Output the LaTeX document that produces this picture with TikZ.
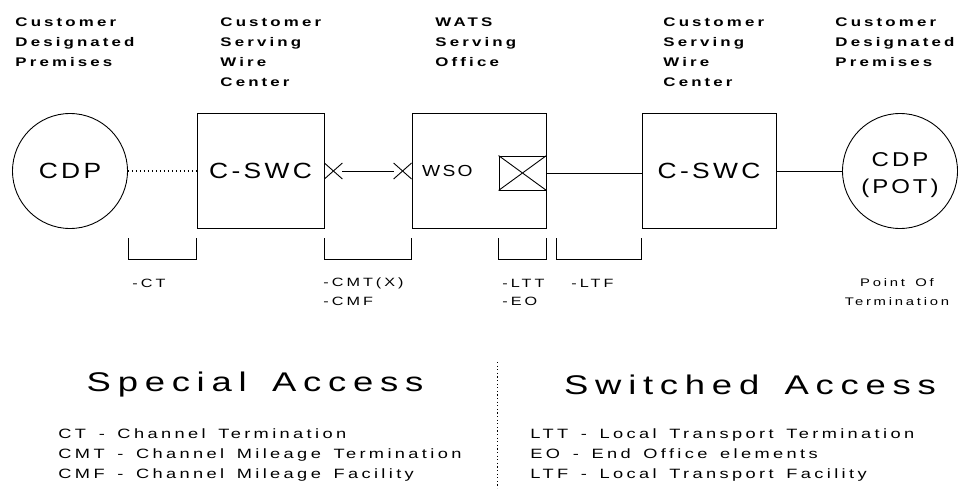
\documentclass[tikz,border=0pt]{standalone}
\usepackage{fontspec}
\setmainfont{Liberation Sans}
\newfontfamily\plotfont[FakeStretch=1.35, LetterSpace=25, WordSpace=1.5]{Liberation Sans}
\newfontfamily\boxfont[FakeStretch=1.2, LetterSpace=15]{Liberation Sans}
\usetikzlibrary{positioning,shapes.misc}

\tikzset{
  site/.style={draw, circle, minimum size=115pt, inner sep=0pt, align=center,
    font=\boxfont\fontsize{22}{26}\selectfont},
  office/.style={draw, rectangle, minimum height=115pt, inner sep=0pt,
    font=\boxfont\fontsize{22}{26}\selectfont},
  switch/.style={draw, rectangle, minimum width=47pt, minimum height=34pt, inner sep=0pt},
  xmark/.style={cross out, draw, minimum width=17pt, minimum height=15pt, inner sep=0pt},
  tag/.style={font=\plotfont\bfseries\fontsize{12.5}{20}\selectfont, align=left, anchor=north west, inner sep=0pt},
  elem/.style={font=\plotfont\fontsize{12}{18}\selectfont, align=left, anchor=west, inner sep=0pt},
  heading/.style={font=\plotfont\fontsize{27}{32}\selectfont, inner sep=0pt},
  legend/.style={font=\plotfont\fontsize{13.5}{20}\selectfont, align=left, anchor=west, inner sep=0pt},
}

% bracket under a stretch of the line
\newcommand{\spanmark}[2]{\draw (#1 |- btop) -- (#1 |- bbot) -- (#2 |- bbot) -- (#2 |- btop);}

\begin{document}
\begin{tikzpicture}[x=1pt, y=-1pt, line width=0.9pt]
    \useasboundingbox (0,0) rectangle (961,488);

    % Titles over the sites
    \node[tag] (cdpLtag) at (15,17) {Customer\\Designated\\Premises};
    \node[tag] (swcLtag) at (220,17) {Customer\\Serving\\Wire\\Center};
    \node[tag] (wsotag) at (435,17) {WATS\\Serving\\Office};
    \node[tag] (swcRtag) at (663,17) {Customer\\Serving\\Wire\\Center};
    \node[tag] (cdpRtag) at (835,17) {Customer\\Designated\\Premises};

    % Sites and offices
    \node[site] (cdpL) at (70,171) {CDP};
    \node[office, minimum width=127pt] (swcL) at (260.5,171) {C-SWC};
    \node[office, minimum width=134pt] (wso) at (479,171) {};
    \node[font=\boxfont\fontsize{16}{18}\selectfont, inner sep=0pt, right=10pt of wso.west] (wsoname) {WSO};
    \node[switch, anchor=east] (sw) at ([yshift=-2pt]wso.east) {};
    \draw (sw.north west) -- (sw.south east) (sw.south west) -- (sw.north east);
    \node[office, minimum width=134pt] (swcR) at (709,171) {C-SWC};
    \node[site] (cdpR) at (900,171) {};
    \node[font=\boxfont\fontsize{20}{27}\selectfont, align=center, inner sep=0pt] (potname) at ([yshift=-4pt]cdpR.center) {CDP\\(POT)};

    % Links
    \draw[line width=1.2pt, dash pattern=on 1.5pt off 2.5pt] (cdpL) -- (swcL);
    \node[xmark, anchor=west] (xa) at (swcL.east) {};
    \node[xmark, anchor=east] (xb) at (wso.west) {};
    \draw (xa) -- (xb);
    \draw (sw.east) -- (sw.east -| swcR.west);
    \draw (swcR) -- (cdpR);

    % Brackets
    \coordinate (btop) at (0,238);
    \coordinate (bbot) at (0,259);
    \coordinate (ltfstart) at ([xshift=10pt]sw.east);
    \spanmark{cdpL.east}{swcL.west}
    \spanmark{swcL.east}{wso.west}
    \spanmark{sw.west}{sw.east}
    \spanmark{ltfstart}{swcR.west}

    % Element labels
    \node[elem] (ct) at (132,283) {-CT};
    \node[elem] (cmt) at (323,283) {-CMT(X)};
    \node[elem] (cmf) at (323,301) {-CMF};
    \node[elem] (ltt) at (502,283) {-LTT};
    \node[elem] (eo) at (502,301) {-EO};
    \node[elem] (ltf) at (571,283) {-LTF};
    \node[elem, anchor=center, align=center, font=\plotfont\fontsize{11}{19}\selectfont] (pot) at (897,292) {Point Of\\Termination};

    % Legend
    \node[heading] (special) at (255,385) {Special Access};
    \node[heading] (switched) at (750,385) {Switched Access};
    \coordinate (divtop) at (497,362);
    \coordinate (divbot) at (497,488);
    \draw[dash pattern=on 1.2pt off 2.4pt] (divtop) -- (divbot);
    \node[legend] (saitems) at (58,455) {CT - Channel Termination\\CMT - Channel Mileage Termination\\CMF - Channel Mileage Facility};
    \node[legend] (switems) at (530,455) {LTT - Local Transport Termination\\EO - End Office elements\\LTF - Local Transport Facility};
\end{tikzpicture}
\end{document}
